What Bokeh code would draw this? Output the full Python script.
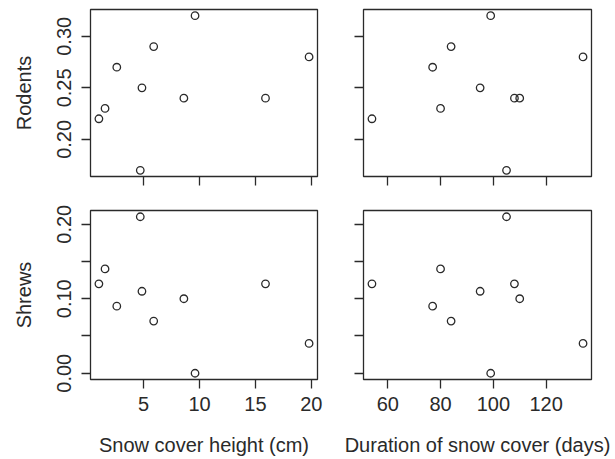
from bokeh.plotting import figure
from bokeh.layouts import gridplot
from bokeh.models import Range1d, FixedTicker, PrintfTickFormatter, ColumnDataSource
from bokeh.embed import file_html
from bokeh.resources import INLINE

# ---- data ----
snow_height = [1.0, 1.55, 2.6, 4.7, 4.85, 5.9, 8.6, 9.6, 15.9, 19.8]
snow_duration = [54, 80, 77, 105, 95, 84, 110, 99, 108, 134]
rodents = [0.22, 0.23, 0.27, 0.17, 0.25, 0.29, 0.24, 0.32, 0.24, 0.28]
shrews = [0.12, 0.14, 0.09, 0.21, 0.11, 0.07, 0.10, 0.00, 0.12, 0.04]

height_ticks = [5, 10, 15, 20]
duration_ticks = [60, 80, 100, 120]
rodent_ticks = [0.20, 0.25, 0.30]
shrew_ticks_labelled = [0.00, 0.10, 0.20]
shrew_ticks_unlabelled = [0.05, 0.15]

src = ColumnDataSource(dict(height=snow_height, duration=snow_duration,
                            rodents=rodents, shrews=shrews))

FONT = "Liberation Sans"
INK = "#2a2a2a"


def r_range(vals):
    lo, hi = min(vals), max(vals)
    pad = 0.04 * (hi - lo)
    return Range1d(lo - pad, hi + pad)


xr_h = r_range(snow_height)
xr_d = r_range(snow_duration)
yr_r = r_range(rodents)
yr_s = r_range(shrews)


def style_axis(ax, show_labels):
    ax.axis_line_color = None
    ax.major_tick_in = 0
    ax.major_tick_out = 9
    ax.minor_tick_in = 0
    ax.minor_tick_out = 9
    ax.major_tick_line_color = INK
    ax.minor_tick_line_color = INK
    ax.major_tick_line_width = 1.3
    ax.minor_tick_line_width = 1.3
    ax.major_label_text_font = FONT
    ax.axis_label_text_font = FONT
    ax.axis_label_text_font_size = "20px"
    ax.axis_label_text_font_style = "normal"
    ax.axis_label_text_color = INK
    if show_labels:
        ax.major_label_text_font_size = "20px"
        ax.major_label_text_color = INK
    else:
        ax.major_label_text_font_size = "1px"
        ax.major_label_text_color = None
        ax.major_label_standoff = 0


def make_panel(xr, yr, xcol, ycol, w, h, borders, xticks, yticks, yminor,
               xlab, ylab, xtitle=None, ytitle=None):
    p = figure(width=w, height=h, x_range=xr, y_range=yr,
               output_backend="svg", toolbar_location=None,
               min_border_left=borders[0], min_border_right=borders[1],
               min_border_top=borders[2], min_border_bottom=borders[3])
    p.grid.visible = False
    p.outline_line_color = INK
    p.outline_line_width = 1.3
    p.background_fill_color = "white"
    p.border_fill_color = "white"
    p.xaxis.ticker = FixedTicker(ticks=xticks, minor_ticks=[])
    p.yaxis.ticker = FixedTicker(ticks=yticks, minor_ticks=yminor)
    p.yaxis.formatter = PrintfTickFormatter(format="%.2f")
    style_axis(p.xaxis[0], xlab)
    style_axis(p.yaxis[0], ylab)
    p.yaxis.major_label_orientation = "vertical"
    if xlab:
        p.xaxis.major_label_standoff = 8
        p.xaxis.axis_label_standoff = 20
    if ylab:
        p.yaxis.major_label_standoff = 10
        p.yaxis.axis_label_standoff = 20
    if xtitle:
        p.xaxis.axis_label = xtitle
    if ytitle:
        p.yaxis.axis_label = ytitle
    p.scatter(xcol, ycol, source=src, marker="circle", size=7.5,
              fill_color=None, line_color=INK, line_width=1.3)
    return p


LW, RW = 340, 274
TH, BH = 193, 265

p1 = make_panel(xr_h, yr_r, "height", "rodents", LW, TH, (90, 23, 9, 17),
                height_ticks, rodent_ticks, [], False, True, ytitle="Rodents")
p2 = make_panel(xr_d, yr_r, "duration", "rodents", RW, TH, (23, 23, 9, 17),
                duration_ticks, rodent_ticks, [], False, False)
p3 = make_panel(xr_h, yr_s, "height", "shrews", LW, BH, (90, 23, 17, 79),
                height_ticks, shrew_ticks_labelled, shrew_ticks_unlabelled,
                True, True, xtitle="Snow cover height (cm)", ytitle="Shrews")
p4 = make_panel(xr_d, yr_s, "duration", "shrews", RW, BH, (23, 23, 17, 79),
                duration_ticks, shrew_ticks_labelled, shrew_ticks_unlabelled,
                True, False, xtitle="Duration of snow cover (days)")

grid = gridplot([[p1, p2], [p3, p4]], toolbar_location=None)

with open("out.html", "w") as f:
    f.write(file_html(grid, INLINE))
